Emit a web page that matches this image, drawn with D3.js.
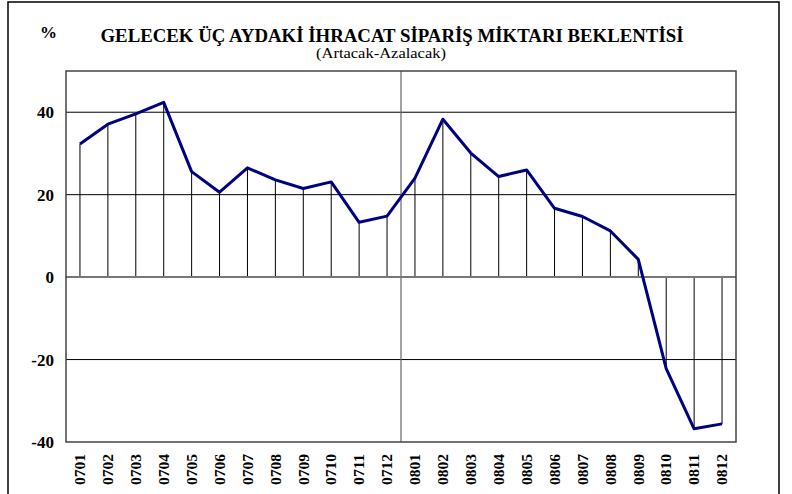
<!DOCTYPE html>
<html><head><meta charset="utf-8">
<script src="https://cdn.jsdelivr.net/npm/d3@7"></script>
<style>body{margin:0;background:#fff}svg{display:block}
svg text{font-family:"Liberation Serif","Times New Roman",serif !important;}</style>
</head><body>
<svg id="c" width="792" height="494"></svg>
<script>
const categories = ["0701","0702","0703","0704","0705","0706","0707","0708","0709","0710","0711","0712",
  "0801","0802","0803","0804","0805","0806","0807","0808","0809","0810","0811","0812"];
const values = [32.3,37.1,39.6,42.4,25.6,20.6,26.5,23.6,21.5,23.1,13.3,14.8,
  24.0,38.3,30.1,24.4,26.0,16.7,14.7,11.2,4.3,-22.2,-36.8,-35.6];
const yTicks = [-40,-20,0,20,40];
const title = "GELECEK ÜÇ AYDAKİ İHRACAT SİPARİŞ MİKTARI BEKLENTİSİ";
const subtitle = "(Artacak-Azalacak)";
const unitLabel = "%";

const svg = d3.select("#c");
const L=66, R=736, T=71, B=442;

// outer frame
svg.append("rect").attr("x",8).attr("y",2).attr("width",771).attr("height",600)
  .attr("fill","none").attr("stroke","#000").attr("stroke-width",1.5);

const x = d3.scaleBand().domain(categories).range([L,R]).padding(0);
const y = d3.scaleLinear().domain([-40,50]).range([B,T]);
const cx = d => x(d)+x.bandwidth()/2;

// grid lines
svg.append("g").selectAll("line").data(yTicks.filter(t=>t!==0 && t!==-40)).join("line")
  .attr("x1",L).attr("x2",R).attr("y1",d=>y(d)).attr("y2",d=>y(d))
  .attr("stroke","#000").attr("stroke-width",1);

// year divider
svg.append("line").attr("x1",x("0801")).attr("x2",x("0801")).attr("y1",T).attr("y2",B)
  .attr("stroke","#666").attr("stroke-width",1.2);

// drop lines
svg.append("g").selectAll("line").data(categories).join("line")
  .attr("x1",cx).attr("x2",cx).attr("y1",y(0)).attr("y2",(d,i)=>y(values[i]))
  .attr("stroke","#000").attr("stroke-width",1);

// zero line
svg.append("line").attr("x1",L).attr("x2",R).attr("y1",y(0)).attr("y2",y(0))
  .attr("stroke","#777").attr("stroke-width",2);

// plot border
svg.append("rect").attr("x",L).attr("y",T).attr("width",R-L).attr("height",B-T)
  .attr("fill","none").attr("stroke","#444").attr("stroke-width",1.5);

// line
const line = d3.line().x((d,i)=>cx(categories[i])).y(d=>y(d));
svg.append("path").datum(values).attr("d",line).attr("fill","none")
  .attr("stroke","#000080").attr("stroke-width",3).attr("stroke-linejoin","round");

// y axis
const ya = svg.append("g").attr("transform",`translate(${L},0)`)
  .call(d3.axisLeft(y).tickValues(yTicks).tickSize(0).tickPadding(12).tickFormat(d=>String(d)));
ya.select(".domain").remove();
ya.attr("font-family",null);
ya.selectAll("text").attr("font-size",17).attr("font-weight","bold").attr("fill","#000");

// x axis
const xa = svg.append("g").attr("transform",`translate(0,${B})`)
  .call(d3.axisBottom(x).tickSize(0));
xa.select(".domain").remove();
xa.attr("font-family",null);
xa.selectAll("text").attr("font-size",15).attr("font-weight","bold").attr("fill","#000")
  .attr("transform","rotate(-90)").attr("x",-12).attr("y",0).attr("dy","0.35em")
  .attr("text-anchor","end").attr("textLength",31).attr("lengthAdjust","spacingAndGlyphs");

// titles
svg.append("text").attr("x",392).attr("y",42).attr("text-anchor","middle")
  .attr("font-weight","bold").attr("font-size",19)
  .attr("textLength",583).attr("lengthAdjust","spacingAndGlyphs").text(title);
svg.append("text").attr("x",381).attr("y",58).attr("text-anchor","middle")
  .attr("font-size",14)
  .attr("textLength",130).attr("lengthAdjust","spacingAndGlyphs").text(subtitle);
svg.append("text").attr("x",40).attr("y",38)
  .attr("font-weight","bold").attr("font-size",17).text(unitLabel);
</script>
</body></html>
